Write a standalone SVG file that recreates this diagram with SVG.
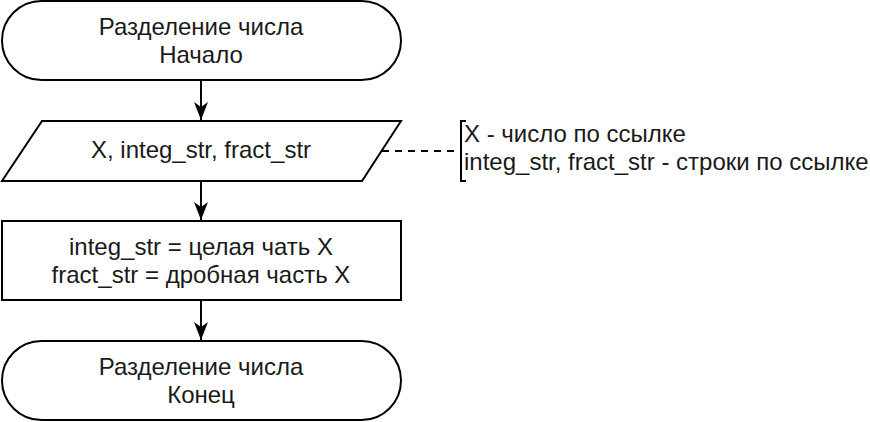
<svg xmlns="http://www.w3.org/2000/svg" width="870" height="422" viewBox="0 0 870 422">
<style>
.shape{fill:#fff;stroke:#000;stroke-width:2}
.t{font-family:"Liberation Sans",Arial,sans-serif;font-size:24px;fill:#1a1a1a;text-anchor:middle}
.a{font-family:"Liberation Sans",Arial,sans-serif;font-size:24px;fill:#1a1a1a}
.edge{fill:none;stroke:#000;stroke-width:2}
</style>
<defs>
<marker id="arr" viewBox="0 0 18 14" refX="18" refY="7" markerWidth="18" markerHeight="14" markerUnits="userSpaceOnUse" orient="auto">
<path d="M0,0 L18,7 L0,14 L5,7 Z" fill="#000"/>
</marker>
</defs>
<g id="edges">
<line class="edge" x1="201" y1="81" x2="201" y2="120" marker-end="url(#arr)"/>
<line class="edge" x1="201" y1="181" x2="201" y2="220" marker-end="url(#arr)"/>
<line class="edge" x1="201" y1="300" x2="201" y2="340" marker-end="url(#arr)"/>
<line class="edge" x1="382" y1="151" x2="461" y2="151" stroke-dasharray="7 6"/>
</g>
<g id="start">
<rect class="shape" x="2" y="1" width="399" height="79" rx="39.5" ry="39.5"/>
<text class="t" x="201" y="35">Разделение числа</text>
<text class="t" x="201" y="63">Начало</text>
</g>
<g id="input">
<polygon class="shape" points="42,121 401,121 362,181 2,181"/>
<text class="t" x="201" y="158">X, integ_str, fract_str</text>
</g>
<g id="note">
<path d="M466,121 L461,121 L461,181 L466,181" fill="none" stroke="#000" stroke-width="2"/>
<text class="a" x="464" y="142">X - число по ссылке</text>
<text class="a" x="464" y="170">integ_str, fract_str - строки по ссылке</text>
</g>
<g id="process">
<rect class="shape" x="2" y="221" width="399" height="79"/>
<text class="t" x="201" y="255">integ_str = целая чать X</text>
<text class="t" x="201" y="283">fract_str = дробная часть X</text>
</g>
<g id="end">
<rect class="shape" x="2" y="341" width="399" height="79" rx="39.5" ry="39.5"/>
<text class="t" x="201" y="375">Разделение числа</text>
<text class="t" x="201" y="403">Конец</text>
</g>
</svg>
